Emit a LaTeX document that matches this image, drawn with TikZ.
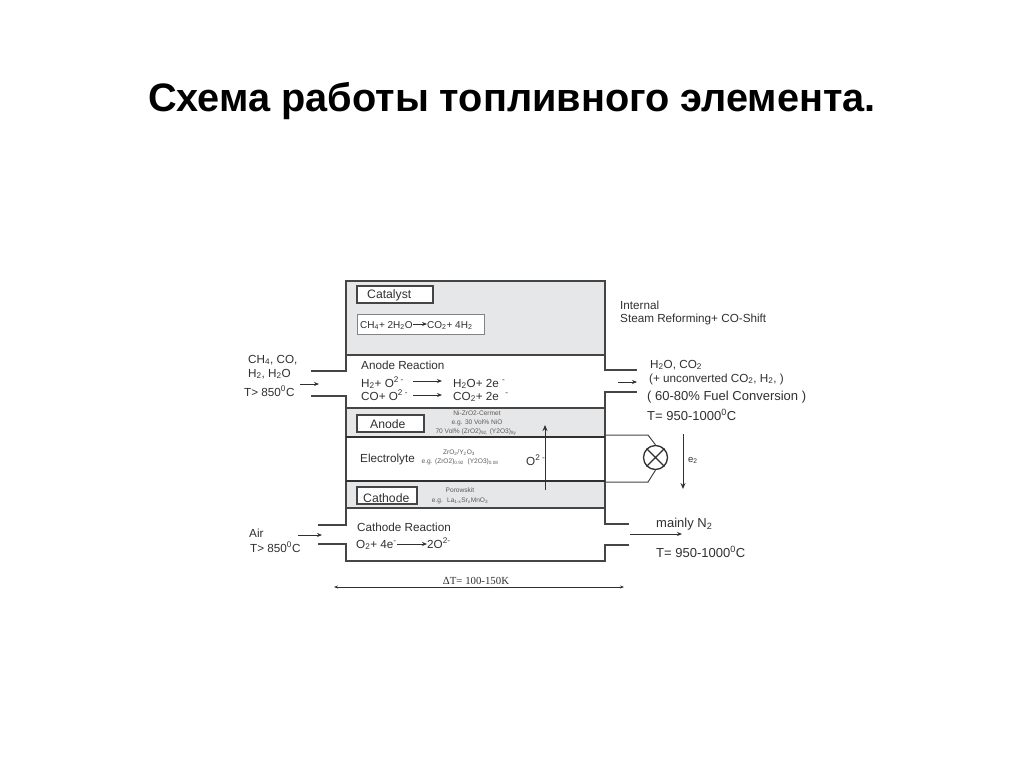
\documentclass[tikz,border=0pt]{standalone}
\usepackage{fontspec}
\setmainfont{Liberation Sans}
\newfontfamily\serifdelta{Liberation Serif}
\usetikzlibrary{arrows.meta}
\definecolor{ink}{HTML}{303030}
\definecolor{wall}{HTML}{454545}
\definecolor{cellgrey}{HTML}{E6E7E8}
\newcommand{\dn}[1]{\textsubscript{#1}}
\newcommand{\up}[1]{\textsuperscript{#1}}
\tikzset{
  x=1pt,y=-1pt,
  lbl/.style={anchor=base west,inner sep=0pt,text=ink,font=\fontsize{13}{14}\selectfont},
  mid/.style={lbl,font=\fontsize{11.7}{13}\selectfont},
  tiny/.style={anchor=base,inner sep=0pt,text=ink!80,font=\fontsize{6.6}{8}\selectfont},
  wallline/.style={draw=wall,line width=1.4pt},
  divider/.style={draw=ink,line width=1.9pt},
  tagbox/.style={draw=wall,line width=1.4pt,fill=white,inner sep=0pt},
  taglabel/.style={lbl,font=\fontsize{12.2}{14}\selectfont},
  flow/.style={draw=ink,line width=0.8pt,-{Stealth[length=5pt,width=4pt]}},
  wire/.style={draw=wall,line width=1pt}
}
\begin{document}
\begin{tikzpicture}
\useasboundingbox (0,0) rectangle (1024,768);
\fill[white] (0,0) rectangle (1024,768);
\node[anchor=base west,inner sep=0pt,font=\fontsize{39.7}{44}\bfseries\selectfont] (title) at (148,111) {Схема работы топливного элемента.};

% grey layers
\fill[cellgrey] (346,281) rectangle (605,355);
\fill[cellgrey] (346,408) rectangle (605,437);
\fill[cellgrey] (346,481) rectangle (605,508);

% housing
\draw[wallline] (346,355) -- (346,281) -- (605,281) -- (605,355);
\draw[wallline] (346,355) -- (605,355);
\draw[wallline] (311,371) -- (346,371) -- (346,355);
\draw[wallline] (605,355) -- (605,370) -- (637,370);
\draw[wallline] (311,396) -- (346,396) -- (346,508);
\draw[wallline] (637,392) -- (605,392) -- (605,508);
\draw[wallline] (346,408) -- (605,408);
\draw[divider] (346,437) -- (605,437);
\draw[divider] (346,481) -- (605,481);
\draw[wallline] (346,508) -- (605,508);
\draw[wallline] (346,508) -- (346,525) -- (318,525);
\draw[wallline] (318,544) -- (346,544) -- (346,561) -- (605,561) -- (605,545) -- (629,545);
\draw[wallline] (605,508) -- (605,524) -- (629,524);

% tag boxes
\node[tagbox,minimum width=76pt,minimum height=17pt] (catalyst) at (395,294.5) {};
\node[taglabel] (catalystt) at (367,298.5) {Catalyst};
\node[draw=ink!60,line width=0.8pt,fill=white,minimum width=127pt,minimum height=20pt,inner sep=0pt] (refbox) at (420.5,324) {};
\node[anchor=base west,inner sep=0pt,text=ink,font=\fontsize{10}{11}\selectfont] (refa) at (360,328) {CH\dn{4}+ 2H\dn{2}O};
\node[anchor=base west,inner sep=0pt,text=ink,font=\fontsize{10}{11}\selectfont] (refb) at (427,328) {CO\dn{2}+ 4H\dn{2}};
\draw[flow] (refa.east |- 0,324) -- (refb.west |- 0,324);
\node[tagbox,minimum width=67pt,minimum height=17pt] (anode) at (390.5,423.5) {};
\node[taglabel] (anodet) at (370,428) {Anode};
\node[tagbox,minimum width=60pt,minimum height=17pt] (cathode) at (387,495.5) {};
\node[taglabel] (cathodet) at (363,502) {Cathode};

% left inputs
\node[mid] (in1) at (248,363) {CH\dn{4}, CO,};
\node[mid] (in2) at (248,377) {H\dn{2}, H\dn{2}O};
\node[mid] (in3) at (244,396) {T> 850\up{0}C};
\coordinate (ina) at (300,384); \coordinate (inb) at (319,384);
\draw[flow] (ina) -- (inb);
\node[mid] (air) at (249,537) {Air};
\node[mid] (airt) at (250,552) {T> 850\up{0}C};
\coordinate (aira) at (298,535); \coordinate (airb) at (322,535);
\draw[flow] (aira) -- (airb);

% anode reaction
\node[mid] (arh) at (361,369) {Anode Reaction};
\node[mid] (r1l) at (361,387) {H\dn{2}+ O\up{2 -}};
\node[mid] (r1r) at (453,387) {H\dn{2}O+ 2e \up{-}};
\draw[flow] (413,381) -- (442,381);
\node[mid] (r2l) at (361,400) {CO+ O\up{2 -}};
\node[mid] (r2r) at (453,400) {CO\dn{2}+ 2e \ \up{-}};
\draw[flow] (413,395) -- (442,395);

% layer details
\node[tiny] (an1) at (477,415) {Ni-ZrO2-Cermet};
\node[tiny] (an2) at (477,424) {e.g. 30 Vol\% NiO};
\node[tiny] (an3) at (476,433) {70 Vol\% (ZrO2)\dn{92,} (Y2O3)\dn{8y}};
\node[mid] (ely) at (360,462) {Electrolyte};
\node[tiny] (el1) at (459,454) {ZrO\dn{2}/Y\dn{2}O\dn{3}};
\node[tiny] (el2) at (460,463) {e.g. (ZrO2)\dn{0.92} \ (Y2O3)\dn{0.08}};
\node[tiny] (ca1) at (460,492) {Porowskit};
\node[tiny] (ca2) at (460,502) {e.g. \ La\dn{1-x}Sr\dn{x}MnO\dn{3}};

% ion arrow
\node[mid] (ion) at (526,465) {O\up{2 -}};
\coordinate (iona) at (545,490); \coordinate (ionb) at (545,425);
\draw[draw=ink,line width=1pt,-{Stealth[length=6pt,width=5pt]}] (iona) -- (ionb);

% cathode reaction
\node[mid] (crh) at (357,531) {Cathode Reaction};
\node[mid] (c1) at (356,548) {O\dn{2}+ 4e\up{-}};
\node[mid] (c2) at (427,548) {2O\up{2-}};
\draw[flow] (c1.east |- 0,544) -- (c2.west |- 0,544);

% right outputs
\node[mid] (int1) at (620,309) {Internal};
\node[mid] (int2) at (620,322) {Steam Reforming+ CO-Shift};
\node[mid] (o1) at (650,368) {H\dn{2}O, CO\dn{2}};
\node[mid] (o2) at (649,382) {(+ unconverted CO\dn{2}, H\dn{2}, )};
\node[lbl] (o3) at (647,400) {( 60-80\% Fuel Conversion )};
\node[lbl] (o4) at (647,420) {T= 950-1000\up{0}C};
\coordinate (outa) at (618,382); \coordinate (outb) at (637,382);
\draw[flow] (outa) -- (outb);
\node[lbl] (n2) at (656,527) {mainly N\dn{2}};
\node[lbl] (n2t) at (656,557) {T= 950-1000\up{0}C};
\coordinate (na) at (630,534); \coordinate (nb) at (682,534);
\draw[flow] (na) -- (nb);

% external circuit
\node[draw=ink,line width=1.3pt,circle,minimum size=24pt,inner sep=0pt] (lamp) at (655.5,457.5) {};
\draw[draw=ink,line width=1.1pt] (lamp.45) -- (lamp.225) (lamp.135) -- (lamp.315);
\coordinate (wa) at (605,435); \coordinate (wb) at (648,435);
\coordinate (wc) at (605,482); \coordinate (wd) at (648,482);
\draw[wire] (wa) -- (wb) -- (lamp.north);
\draw[wire] (wc) -- (wd) -- (lamp.south);
\coordinate (ea) at (683,434); \coordinate (eb) at (683,489);
\draw[draw=ink,line width=1pt,-{Stealth[length=6pt,width=5pt]}] (ea) -- (eb);
\node[anchor=base west,inner sep=0pt,text=ink,font=\fontsize{9.5}{11}\selectfont] (e2) at (688,462) {e\dn{2}};

% width dimension
\node[anchor=base,inner sep=0pt,text=ink,font=\serifdelta\fontsize{10.8}{12}\selectfont] (dt) at (476,584) {ΔT= 100-150K};
\coordinate (da) at (334,587); \coordinate (db) at (624,587);
\draw[draw=ink,line width=0.7pt,{Stealth[length=4pt,width=3pt]}-{Stealth[length=4pt,width=3pt]}] (da) -- (db);
\end{tikzpicture}
\end{document}
